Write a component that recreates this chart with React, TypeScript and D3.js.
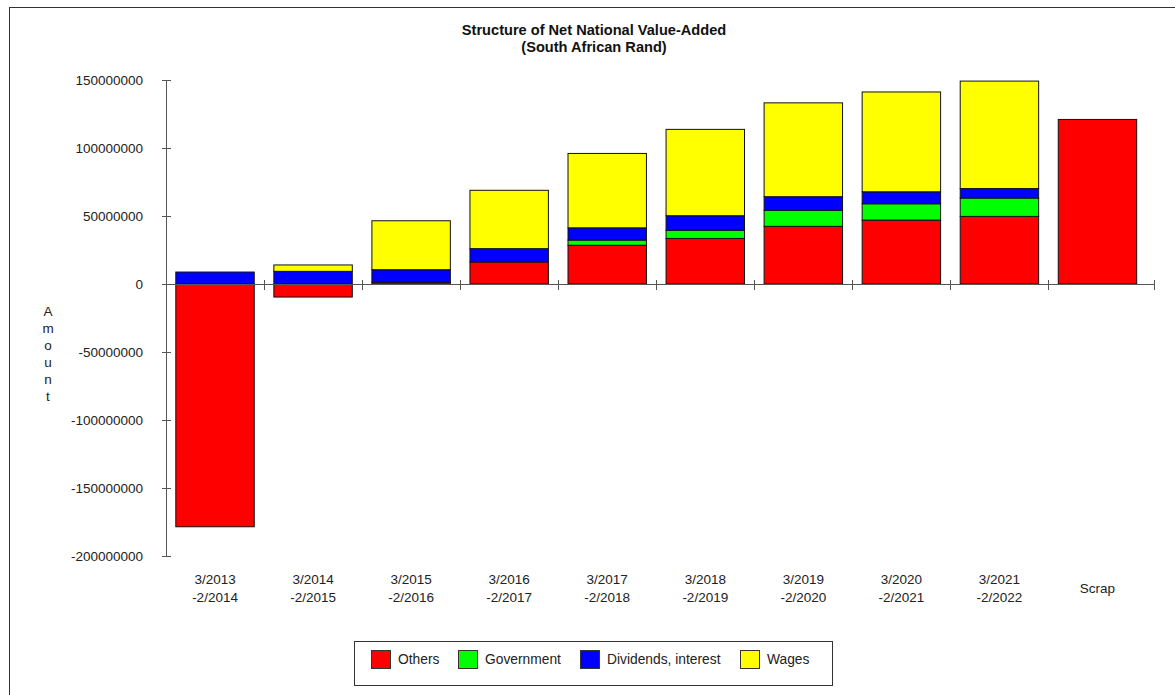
import React from "react";
import * as d3 from "d3";

const categories = [
  "3/2013\n-2/2014",
  "3/2014\n-2/2015",
  "3/2015\n-2/2016",
  "3/2016\n-2/2017",
  "3/2017\n-2/2018",
  "3/2018\n-2/2019",
  "3/2019\n-2/2020",
  "3/2020\n-2/2021",
  "3/2021\n-2/2022",
  "Scrap",
];
const others = [-178500000, -9600000, 1300000, 16200000, 28500000, 33500000, 42400000, 47000000, 49700000, 121000000];
const government = [0, 0, 0, 0, 3800000, 6000000, 11800000, 12000000, 13500000, 0];
const dividends = [8800000, 9300000, 9200000, 9800000, 9000000, 10700000, 10000000, 8800000, 7000000, 0];
const wages = [0, 4700000, 36000000, 42900000, 54700000, 63500000, 69000000, 73400000, 79000000, 0];
const yTicks = [150000000, 100000000, 50000000, 0, -50000000, -100000000, -150000000, -200000000];

const seriesNames = ["Others", "Government", "Dividends, interest", "Wages"];
const seriesKeys = ["others", "government", "dividends", "wages"];
const seriesColors = ["#FF0000", "#00FF00", "#0000FF", "#FFFF00"];

export default function App() {
  const rows = categories.map((c, i) => ({
    cat: c,
    others: others[i],
    government: government[i],
    dividends: dividends[i],
    wages: wages[i],
  }));
  const stack = d3.stack<any>().keys(seriesKeys).offset(d3.stackOffsetDiverging);
  const stacked = stack(rows);

  const x = d3.scaleBand<string>().domain(categories).range([166, 1146.5]).paddingInner(0.2).paddingOuter(0.1);
  const xb = d3.scaleBand<string>().domain(categories).range([166, 1146.5]).padding(0);
  const y = d3.scaleLinear().domain([-200000000, 150000000]).range([556, 80]);

  const font = "'Liberation Sans', Arial, sans-serif";
  const legendItems = [
    { x: 371, tx: 398 },
    { x: 458, tx: 485 },
    { x: 580, tx: 607 },
    { x: 740, tx: 767 },
  ];

  return (
    <svg width={1175} height={695} style={{ position: "absolute", left: 0, top: 0 }} fontFamily={font}>
      <rect x={0} y={0} width={1175} height={695} fill="#fff" />
      <rect x={9.5} y={7.5} width={1200} height={700} fill="none" stroke="#333" strokeWidth={1} />
      <text x={594} y={35} textAnchor="middle" fontSize={14.6} fontWeight="bold" fill="#111">
        Structure of Net National Value-Added
      </text>
      <text x={594} y={52} textAnchor="middle" fontSize={14.6} fontWeight="bold" fill="#111">
        (South African Rand)
      </text>

      {/* bars */}
      {stacked.map((s, si) => (
        <g key={seriesKeys[si]}>
          {s.map((d, i) => {
            const v0 = d[0], v1 = d[1];
            if (v1 - v0 === 0) return null;
            const top = y(Math.max(v0, v1));
            const bot = y(Math.min(v0, v1));
            return (
              <rect
                key={i}
                x={x(categories[i])!}
                y={top}
                width={x.bandwidth()}
                height={bot - top}
                fill={seriesColors[si]}
                stroke="#111"
                strokeWidth={1}
              />
            );
          })}
        </g>
      ))}

      {/* y axis */}
      <line x1={166.5} x2={166.5} y1={80} y2={556} stroke="#555" strokeWidth={1} />
      {yTicks.map((t) => (
        <g key={t}>
          <line x1={162} x2={171} y1={Math.round(y(t)) + 0.5} y2={Math.round(y(t)) + 0.5} stroke="#555" />
          <text x={143} y={y(t) + 5} textAnchor="end" fontSize={13.5} fill="#222">
            {t}
          </text>
        </g>
      ))}
      {"Amount".split("").map((ch, i) => (
        <text key={i} x={48} y={316 + i * 17} textAnchor="middle" fontSize={13.5} fill="#222">
          {ch}
        </text>
      ))}

      {/* x axis */}
      <line x1={166} x2={1154} y1={Math.round(y(0)) + 0.5} y2={Math.round(y(0)) + 0.5} stroke="#555" strokeWidth={1} />
      {categories.slice(1).map((c) => (
        <line key={c} x1={Math.round(xb(c)!) + 0.5} x2={Math.round(xb(c)!) + 0.5} y1={280} y2={290} stroke="#555" />
      ))}
      <line x1={1154.5} x2={1154.5} y1={280} y2={290} stroke="#555" />
      {categories.map((c) => {
        const cx = x(c)! + x.bandwidth() / 2;
        const lines = c.split("\n");
        if (lines.length === 1) {
          return (
            <text key={c} x={cx} y={593} textAnchor="middle" fontSize={13.5} fill="#222">
              {lines[0]}
            </text>
          );
        }
        return (
          <g key={c}>
            <text x={cx} y={584} textAnchor="middle" fontSize={13.5} fill="#222">
              {lines[0]}
            </text>
            <text x={cx} y={602} textAnchor="middle" fontSize={13.5} fill="#222">
              {lines[1]}
            </text>
          </g>
        );
      })}

      {/* legend */}
      <rect x={354.5} y={641.5} width={478} height={44} fill="#fff" stroke="#333" />
      {seriesNames.map((n, i) => (
        <g key={n}>
          <rect x={legendItems[i].x + 0.5} y={650.5} width={19} height={18} fill={seriesColors[i]} stroke="#333" />
          <text x={legendItems[i].tx} y={663.5} fontSize={13.8} fill="#222">
            {n}
          </text>
        </g>
      ))}
    </svg>
  );
}
